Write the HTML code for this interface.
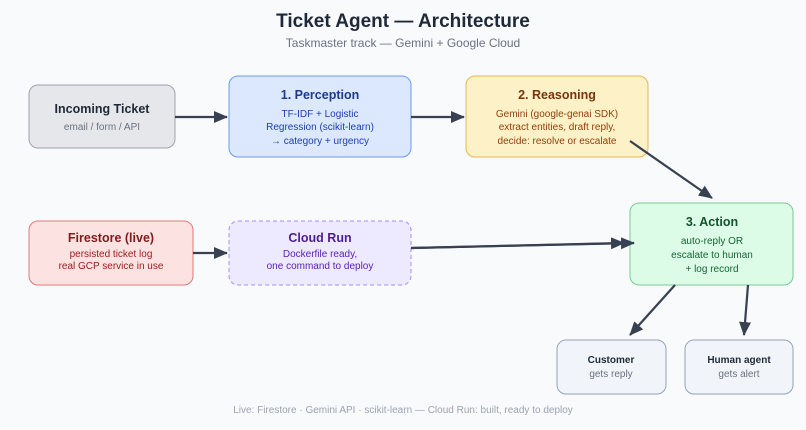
<!DOCTYPE html>
<html><head><style>
body{margin:0;width:806px;height:425px;background:#f8fafc;font-family:"Liberation Sans",sans-serif;overflow:hidden}
</style></head><body>
<svg width="806" height="425" xmlns="http://www.w3.org/2000/svg" font-family="Liberation Sans, sans-serif">
<defs>
<marker id="a" markerWidth="14" markerHeight="14" refX="13" refY="7" orient="auto" markerUnits="userSpaceOnUse"><path d="M0,1 L14,7 L0,13 z" fill="#374151"/></marker>
</defs>
<rect width="806" height="425" fill="#f8fafc"/>
<text x="403" y="27" text-anchor="middle" font-size="19" font-weight="bold" fill="#1f2937">Ticket Agent — Architecture</text>
<text x="403" y="47" text-anchor="middle" font-size="12" fill="#6b7280">Taskmaster track — Gemini + Google Cloud</text>

<rect x="29" y="85" width="146" height="63" rx="9" fill="#e5e7eb" stroke="#9ca3af"/>
<text x="102" y="113" text-anchor="middle" font-size="12.5" font-weight="bold" fill="#1f2937">Incoming Ticket</text>
<text x="102" y="130" text-anchor="middle" font-size="10" fill="#6b7280">email / form / API</text>

<rect x="229" y="76" width="182" height="81" rx="9" fill="#dbe8fd" stroke="#6b9ae8"/>
<text x="320" y="99" text-anchor="middle" font-size="12.5" font-weight="bold" fill="#1e3a8a">1. Perception</text>
<text x="320" y="117" text-anchor="middle" font-size="10" fill="#1e40af">TF-IDF + Logistic</text>
<text x="320" y="130" text-anchor="middle" font-size="10" fill="#1e40af">Regression (scikit-learn)</text>
<text x="320" y="144" text-anchor="middle" font-size="10" fill="#1e40af">→ category + urgency</text>

<rect x="466" y="76" width="182" height="81" rx="9" fill="#fdf1c7" stroke="#e6b84f"/>
<text x="557" y="99" text-anchor="middle" font-size="12.5" font-weight="bold" fill="#78350f">2. Reasoning</text>
<text x="557" y="117" text-anchor="middle" font-size="10" fill="#92400e">Gemini (google-genai SDK)</text>
<text x="557" y="130" text-anchor="middle" font-size="10" fill="#92400e">extract entities, draft reply,</text>
<text x="557" y="144" text-anchor="middle" font-size="10" fill="#92400e">decide: resolve or escalate</text>

<rect x="630" y="203" width="163" height="82" rx="9" fill="#dcfce7" stroke="#7cc98f"/>
<text x="712" y="226" text-anchor="middle" font-size="12.5" font-weight="bold" fill="#14532d">3. Action</text>
<text x="712" y="244" text-anchor="middle" font-size="10" fill="#166534">auto-reply OR</text>
<text x="712" y="258" text-anchor="middle" font-size="10" fill="#166534">escalate to human</text>
<text x="712" y="272" text-anchor="middle" font-size="10" fill="#166534">+ log record</text>

<rect x="29" y="221" width="164" height="64" rx="9" fill="#fde2e2" stroke="#e07a7a"/>
<text x="111" y="242" text-anchor="middle" font-size="12.5" font-weight="bold" fill="#7f1d1d">Firestore (live)</text>
<text x="111" y="257" text-anchor="middle" font-size="10" fill="#991b1b">persisted ticket log</text>
<text x="111" y="269" text-anchor="middle" font-size="10" fill="#991b1b">real GCP service in use</text>

<rect x="229" y="221" width="182" height="64" rx="9" fill="#ede9fe" stroke="#a78bfa" stroke-dasharray="4,3"/>
<text x="320" y="242" text-anchor="middle" font-size="12.5" font-weight="bold" fill="#4c1d95">Cloud Run</text>
<text x="320" y="257" text-anchor="middle" font-size="10" fill="#5b21b6">Dockerfile ready,</text>
<text x="320" y="269" text-anchor="middle" font-size="10" fill="#5b21b6">one command to deploy</text>

<rect x="557" y="340" width="109" height="54" rx="9" fill="#f1f5f9" stroke="#94a3b8"/>
<text x="611" y="363" text-anchor="middle" font-size="10" font-weight="bold" fill="#1f2937">Customer</text>
<text x="611" y="377" text-anchor="middle" font-size="10" fill="#6b7280">gets reply</text>
<rect x="685" y="340" width="108" height="54" rx="9" fill="#f1f5f9" stroke="#94a3b8"/>
<text x="739" y="363" text-anchor="middle" font-size="10" font-weight="bold" fill="#1f2937">Human agent</text>
<text x="739" y="377" text-anchor="middle" font-size="10" fill="#6b7280">gets alert</text>

<g stroke="#374151" stroke-width="2.2" fill="none" marker-end="url(#a)">
<line x1="175" y1="117" x2="227" y2="117"/>
<line x1="411" y1="117" x2="464" y2="117"/>
<line x1="630" y1="141" x2="712" y2="198"/>
<line x1="193" y1="253" x2="227" y2="253"/>
<line x1="411" y1="248" x2="624" y2="243"/>
<line x1="411" y1="248" x2="634" y2="243"/>
<line x1="675" y1="285" x2="630" y2="335"/>
<line x1="748" y1="285" x2="744" y2="335"/>
</g>
<text x="403" y="413" text-anchor="middle" font-size="10" fill="#9ca3af">Live: Firestore · Gemini API · scikit-learn — Cloud Run: built, ready to deploy</text>
</svg>
</body></html>
